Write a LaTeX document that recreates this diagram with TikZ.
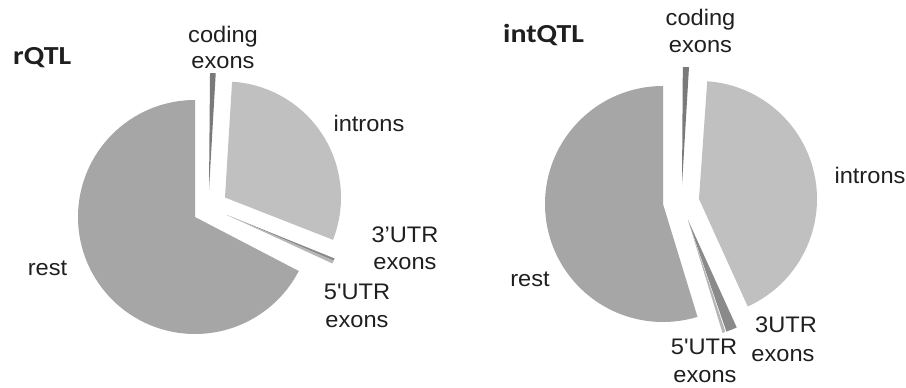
\documentclass[tikz,border=0pt]{standalone}
\usepackage{fontspec}
\setmainfont{Liberation Sans}
\newfontfamily\lab[FakeStretch=1.05]{Liberation Sans}
\newfontfamily\ttl[FakeStretch=1.15]{Carlito}
\definecolor{restcol}{HTML}{A6A6A6}
\definecolor{introncol}{HTML}{C0C0C0}
\definecolor{codecol}{HTML}{7A7A7A}
\definecolor{utrthree}{HTML}{8A8A8A}
\definecolor{utrfive}{HTML}{B6B6B6}
\begin{document}
\begin{tikzpicture}[x=1pt,y=1pt,
  lbl/.style={inner sep=0pt,anchor=base,font=\lab\fontsize{22.5}{27}\selectfont,text=black!88},
  ttlbl/.style={inner sep=0pt,anchor=base west,font=\ttl\bfseries\fontsize{26}{30}\selectfont,text=black!88}]
\fill[white] (0,0) rectangle (906,388);
\useasboundingbox (0,0) rectangle (906,388);
% ---- rQTL pie ----
\fill[restcol] (195,171) -- ++(90:117) arc[start angle=90,end angle=332.5,radius=117] -- cycle;
\fill[codecol] (209,198) -- ++(86.7:117) arc[start angle=86.7,end angle=89.5,radius=117] -- cycle;
\fill[introncol] (225,190.5) -- ++(-21.4:116) arc[start angle=-21.4,end angle=86.5,radius=116] -- cycle;
\fill[utrthree] (227,173) -- ++(-23.2:116) arc[start angle=-23.2,end angle=-22,radius=116] -- cycle;
\fill[utrfive] (227,173) -- ++(-24.7:116) arc[start angle=-24.7,end angle=-23.2,radius=116] -- cycle;
% ---- intQTL pie ----
\fill[restcol] (663,184) -- ++(90:118) arc[start angle=90,end angle=287,radius=118] -- cycle;
\fill[codecol] (682,203) -- ++(86.6:118) arc[start angle=86.6,end angle=89.6,radius=118] -- cycle;
\fill[introncol] (699,189) -- ++(-65.6:118) arc[start angle=-65.6,end angle=86,radius=118] -- cycle;
\fill[utrthree] (688,168) -- ++(-71:118) arc[start angle=-71,end angle=-65.6,radius=118] -- cycle;
\fill[utrfive] (688,168) -- ++(-73:118) arc[start angle=-73,end angle=-71.5,radius=118] -- cycle;
% ---- labels left ----
\node[ttlbl] (t1) at (13,323) {rQTL};
\node[lbl] (c1a) at (223,345) {coding};
\node[lbl] (c1b) at (223,319) {exons};
\node[lbl] (i1) at (369,256) {introns};
\node[lbl] (u3a) at (405,145) {3’UTR};
\node[lbl] (u3b) at (405,118) {exons};
\node[lbl] (u5a) at (357,88) {5'UTR};
\node[lbl] (u5b) at (357,60) {exons};
\node[lbl] (r1) at (47.5,112) {rest};
% ---- labels right ----
\node[ttlbl] (t2) at (503,345) {intQTL};
\node[lbl] (c2a) at (700.5,362) {coding};
\node[lbl] (c2b) at (700.5,335) {exons};
\node[lbl] (i2) at (870,204) {introns};
\node[lbl] (r2) at (530,101) {rest};
\node[lbl] (v5a) at (704,33) {5'UTR};
\node[lbl] (v5b) at (705,5) {exons};
\node[lbl] (v3a) at (786,55) {3UTR};
\node[lbl] (v3b) at (783,26) {exons};
\end{tikzpicture}
\end{document}
